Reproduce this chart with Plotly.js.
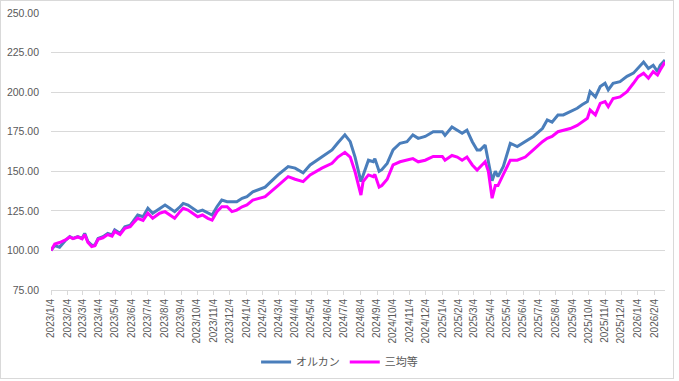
<!DOCTYPE html>
<html>
<head>
<meta charset="utf-8">
<script src="https://cdn.plot.ly/plotly-3.0.1.min.js"></script>
<style>
html,body{margin:0;padding:0;background:#fff;}
#frame{position:absolute;left:0;top:0;width:672px;height:377px;border:1px solid #d9d9d9;}
#chart{position:absolute;left:0;top:0;width:679px;height:381px;}
</style>
</head>
<body>
<div id="frame"></div>
<div id="chart"></div>
<script>
const seriesNames = ["オルカン", "三均等"];
const dates = [
"2023-01-04","2023-01-11","2023-01-20","2023-01-30","2023-02-08","2023-02-14","2023-02-23","2023-03-03","2023-03-08","2023-03-14",
"2023-03-21","2023-03-27","2023-04-02","2023-04-11","2023-04-20","2023-04-28","2023-05-03","2023-05-13","2023-05-22","2023-06-01",
"2023-06-06","2023-06-15","2023-06-25","2023-07-04","2023-07-13","2023-07-26","2023-08-05","2023-08-14","2023-08-23","2023-09-02",
"2023-09-08","2023-09-17","2023-09-26","2023-10-05","2023-10-14","2023-10-24","2023-11-01","2023-11-10","2023-11-19","2023-11-29",
"2023-12-08","2023-12-17","2023-12-27","2024-01-05","2024-01-16","2024-02-08","2024-03-03","2024-03-22","2024-04-04","2024-04-19",
"2024-05-02","2024-05-24","2024-06-12","2024-06-23","2024-07-06","2024-07-16","2024-07-25","2024-08-05","2024-08-09","2024-08-19",
"2024-08-28","2024-08-31","2024-09-08","2024-09-13","2024-09-23","2024-10-04","2024-10-17","2024-10-30","2024-11-10","2024-11-20",
"2024-12-03","2024-12-18","2025-01-04","2025-01-09","2025-01-22","2025-02-01","2025-02-10","2025-02-19","2025-03-01","2025-03-10",
"2025-03-16","2025-03-25","2025-03-31","2025-04-07","2025-04-13","2025-04-18","2025-04-28","2025-05-11","2025-05-24","2025-06-08",
"2025-06-23","2025-07-10","2025-07-19","2025-07-28","2025-08-08","2025-08-18","2025-08-31","2025-09-13","2025-09-22","2025-10-02",
"2025-10-07","2025-10-17","2025-10-26","2025-11-04","2025-11-10","2025-11-19","2025-12-02","2025-12-15","2025-12-27","2026-01-05",
"2026-01-15","2026-01-24","2026-02-02","2026-02-10","2026-02-15","2026-02-24"
];
const orukan = [
100.0,103.0,102.0,106.0,108.7,107.6,108.7,107.6,110.8,105.5,
103.3,103.3,107.6,108.7,110.8,109.8,113.0,110.8,115.0,116.0,
118.2,122.4,121.3,126.6,123.5,126.6,128.7,126.6,124.5,127.6,
129.7,128.7,126.6,124.5,125.5,123.5,122.4,127.6,131.8,130.8,
130.8,130.8,132.9,134.0,137.0,140.0,147.7,153.0,152.0,149.0,
154.0,159.0,163.5,168.0,173.0,168.7,159.0,143.5,147.7,157.0,
156.0,158.0,150.0,151.0,155.0,163.5,167.7,168.7,173.0,170.8,
172.0,175.0,175.0,172.7,178.0,176.0,174.0,176.0,168.7,163.5,
163.5,166.6,157.0,144.0,150.0,146.6,153.0,167.7,165.6,168.7,
172.0,177.0,182.4,181.0,185.6,185.6,187.7,189.8,192.0,194.0,
200.3,197.0,203.5,205.6,201.4,205.6,206.6,210.0,212.0,215.0,
219.0,215.0,217.0,213.0,217.0,220.3
];
const sankinto = [
100.0,104.0,105.0,106.5,108.5,107.5,108.5,107.3,110.0,105.0,
102.5,103.0,107.0,108.0,110.0,109.0,112.0,110.0,114.0,115.0,
117.0,120.3,119.0,123.5,120.3,123.5,124.5,122.4,120.3,124.5,
126.6,125.5,123.5,121.3,122.4,120.3,119.2,124.5,127.6,127.6,
124.5,125.5,127.6,128.7,131.8,134.0,141.0,146.6,145.0,143.5,
147.7,152.0,155.0,159.0,162.0,159.0,149.7,135.0,143.5,147.7,
146.6,148.0,140.0,141.0,145.0,154.0,156.0,157.0,158.0,156.0,
157.0,159.4,159.4,157.0,160.0,159.0,157.0,159.0,154.0,150.8,
153.0,156.0,150.0,133.0,141.0,141.0,148.0,157.0,157.0,159.0,
163.5,168.7,170.8,172.0,175.0,176.0,177.0,179.0,181.4,183.5,
188.7,185.6,192.9,194.0,190.8,196.0,197.0,200.3,205.6,209.8,
212.0,208.8,213.0,210.8,214.0,219.0
];
const tickDates = [
"2023-01-04","2023-02-04","2023-03-04","2023-04-04","2023-05-04","2023-06-04","2023-07-04","2023-08-04","2023-09-04","2023-10-04",
"2023-11-04","2023-12-04","2024-01-04","2024-02-04","2024-03-04","2024-04-04","2024-05-04","2024-06-04","2024-07-04","2024-08-04",
"2024-09-04","2024-10-04","2024-11-04","2024-12-04","2025-01-04","2025-02-04","2025-03-04","2025-04-04","2025-05-04","2025-06-04",
"2025-07-04","2025-08-04","2025-09-04","2025-10-04","2025-11-04","2025-12-04","2026-01-04","2026-02-04"
];
const tickLabels = [
"2023/1/4","2023/2/4","2023/3/4","2023/4/4","2023/5/4","2023/6/4","2023/7/4","2023/8/4","2023/9/4","2023/10/4",
"2023/11/4","2023/12/4","2024/1/4","2024/2/4","2024/3/4","2024/4/4","2024/5/4","2024/6/4","2024/7/4","2024/8/4",
"2024/9/4","2024/10/4","2024/11/4","2024/12/4","2025/1/4","2025/2/4","2025/3/4","2025/4/4","2025/5/4","2025/6/4",
"2025/7/4","2025/8/4","2025/9/4","2025/10/4","2025/11/4","2025/12/4","2026/1/4","2026/2/4"
];

const traces = [
  {x: dates, y: orukan, name: seriesNames[0], type: "scatter", mode: "lines",
   line: {color: "#4a7ebb", width: 3}},
  {x: dates, y: sankinto, name: seriesNames[1], type: "scatter", mode: "lines",
   line: {color: "#ff00ff", width: 3}}
];

const layout = {
  width: 679, height: 381,
  margin: {l: 51, r: 14, t: 13, b: 91, autoexpand: false},
  paper_bgcolor: "rgba(0,0,0,0)",
  plot_bgcolor: "rgba(0,0,0,0)",
  font: {family: "Liberation Sans, Arial, sans-serif", size: 10, color: "#595959"},
  showlegend: true,
  legend: {orientation: "h", x: 0.47, xanchor: "center", y: -0.26, yanchor: "middle",
           font: {family: "Noto Sans CJK JP, sans-serif", size: 11, color: "#595959"},
           itemwidth: 30},
  xaxis: {
    type: "date",
    range: ["2023-01-04", "2026-02-24"],
    tickmode: "array", tickvals: tickDates, ticktext: tickLabels,
    tickangle: -90, automargin: false,
    ticks: "outside", ticklen: 4, tickcolor: "#d9d9d9",
    showline: true, linecolor: "#d9d9d9", linewidth: 1,
    showgrid: false, zeroline: false,
    tickfont: {size: 10, color: "#595959"}
  },
  yaxis: {
    range: [75, 250], dtick: 25, tick0: 75,
    tickformat: ".2f", automargin: false,
    showgrid: true, gridcolor: "#d9d9d9", gridwidth: 1,
    zeroline: false, showline: false, ticks: "",
    ticklabelstandoff: 11,
    tickfont: {size: 10.5, color: "#595959"}
  }
};

Plotly.newPlot("chart", traces, layout, {staticPlot: true, displayModeBar: false});
</script>
</body>
</html>
